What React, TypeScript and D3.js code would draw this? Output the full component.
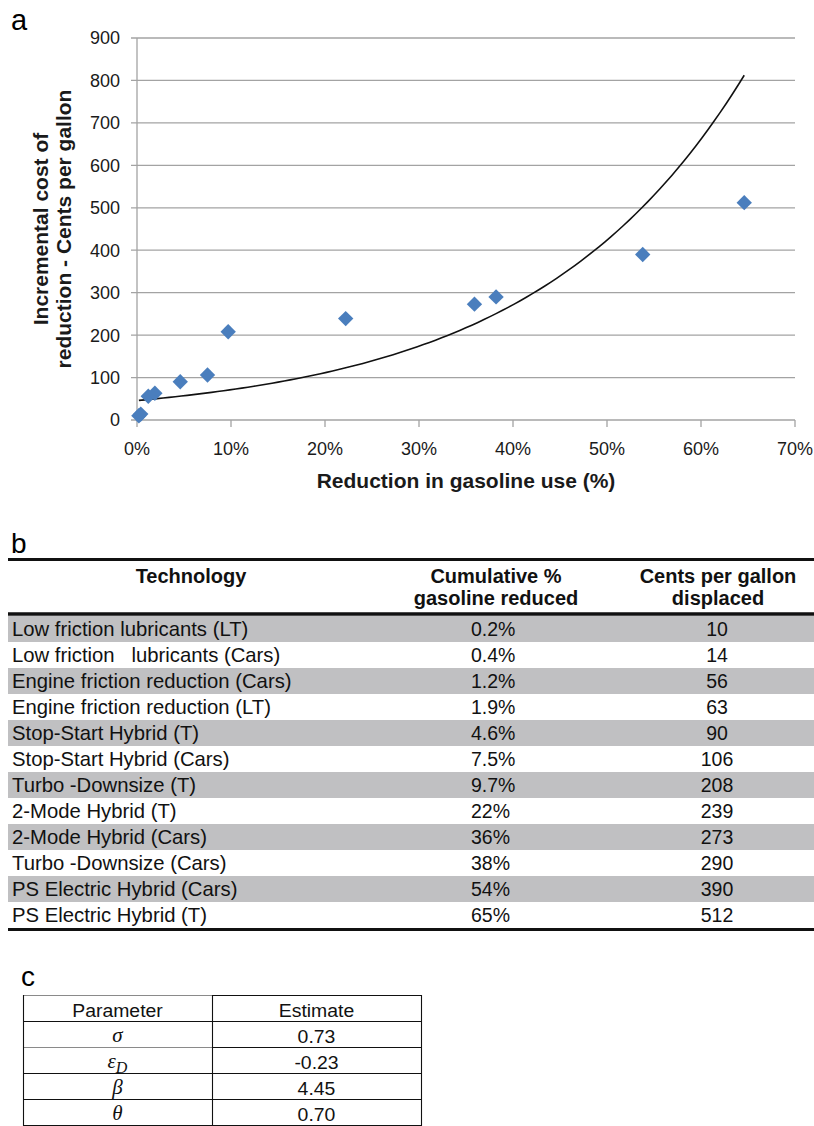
import React, { useEffect, useRef } from "react";
import * as d3 from "d3";

// panel b table
const technologies = [
  "Low friction lubricants (LT)",
  "Low friction   lubricants (Cars)",
  "Engine friction reduction (Cars)",
  "Engine friction reduction (LT)",
  "Stop-Start Hybrid (T)",
  "Stop-Start Hybrid (Cars)",
  "Turbo -Downsize (T)",
  "2-Mode Hybrid (T)",
  "2-Mode Hybrid (Cars)",
  "Turbo -Downsize (Cars)",
  "PS Electric Hybrid (Cars)",
  "PS Electric Hybrid (T)",
];
const cumulativeLabels = ["0.2%", "0.4%", "1.2%", "1.9%", "4.6%", "7.5%", "9.7%", "22%", "36%", "38%", "54%", "65%"];
const centsPerGallon = [10, 14, 56, 63, 90, 106, 208, 239, 273, 290, 390, 512];

// panel a: x positions as plotted (fraction of gasoline reduced)
const plottedReduction = [0.002, 0.004, 0.012, 0.019, 0.046, 0.075, 0.097, 0.222, 0.359, 0.382, 0.538, 0.646];

const yTicks = [0, 100, 200, 300, 400, 500, 600, 700, 800, 900];
const xTicks = [0, 0.1, 0.2, 0.3, 0.4, 0.5, 0.6, 0.7];

// panel c table
const paramSymbols = ["σ", "ε", "β", "θ"];
const paramSubscripts = ["", "D", "", ""];
const paramEstimates = ["0.73", "-0.23", "4.45", "0.70"];

const SANS = "'Liberation Sans', Arial, Helvetica, sans-serif";
const SERIF = "'Liberation Serif', 'Times New Roman', serif";

export default function App() {
  const svgRef = useRef(null);

  useEffect(() => {
    if (!svgRef.current) return;
    const svg = d3.select(svgRef.current);
    svg.selectAll("*").remove();

    // ---------- panel a ----------
    const x = d3.scaleLinear().domain([0, 0.7]).range([137, 795]);
    const y = d3.scaleLinear().domain([0, 900]).range([420, 38]);
    const chart = svg.append("g");

    chart
      .append("text")
      .attr("x", 11)
      .attr("y", 29.5)
      .attr("font-family", SANS)
      .attr("font-size", 29)
      .text("a");

    // gridlines
    chart
      .append("g")
      .selectAll("line")
      .data(yTicks)
      .join("line")
      .attr("x1", 131)
      .attr("x2", 795)
      .attr("y1", (d) => y(d))
      .attr("y2", (d) => y(d))
      .attr("stroke", "#a3a3a3")
      .attr("stroke-width", 1.3);

    // y axis line
    chart
      .append("line")
      .attr("x1", x(0))
      .attr("x2", x(0))
      .attr("y1", y(900))
      .attr("y2", y(0))
      .attr("stroke", "#a3a3a3")
      .attr("stroke-width", 1.3);

    // x tick marks
    chart
      .append("g")
      .selectAll("line")
      .data(xTicks)
      .join("line")
      .attr("x1", (d) => x(d))
      .attr("x2", (d) => x(d))
      .attr("y1", y(0))
      .attr("y2", y(0) + 7)
      .attr("stroke", "#a3a3a3")
      .attr("stroke-width", 1.3);

    chart
      .append("g")
      .selectAll("text")
      .data(yTicks)
      .join("text")
      .attr("x", 120)
      .attr("y", (d) => y(d))
      .attr("dy", "0.36em")
      .attr("text-anchor", "end")
      .attr("font-family", SANS)
      .attr("font-size", 18)
      .attr("fill", "#1a1a1a")
      .text((d) => d);

    chart
      .append("g")
      .selectAll("text")
      .data(xTicks)
      .join("text")
      .attr("x", (d) => x(d))
      .attr("y", 454.5)
      .attr("text-anchor", "middle")
      .attr("font-family", SANS)
      .attr("font-size", 18)
      .attr("fill", "#1a1a1a")
      .text((d) => d3.format(".0%")(d));

    chart
      .append("text")
      .attr("x", 466)
      .attr("y", 488)
      .attr("text-anchor", "middle")
      .attr("font-family", SANS)
      .attr("font-size", 21)
      .attr("font-weight", "bold")
      .attr("fill", "#1a1a1a")
      .text("Reduction in gasoline use (%)");

    const yTitle = chart
      .append("text")
      .attr("transform", "translate(0,229) rotate(-90)")
      .attr("text-anchor", "middle")
      .attr("font-family", SANS)
      .attr("font-size", 21)
      .attr("font-weight", "bold")
      .attr("fill", "#1a1a1a");
    yTitle.append("tspan").attr("x", 0).attr("y", 48).text("Incremental cost of");
    yTitle.append("tspan").attr("x", 0).attr("y", 70.5).text("reduction - Cents per gallon");

    // exponential trendline, least squares on ln(y)
    const lnY = centsPerGallon.map((v) => Math.log(v));
    const mx = d3.mean(plottedReduction);
    const my = d3.mean(lnY);
    const sxy = d3.sum(plottedReduction, (v, i) => (v - mx) * (lnY[i] - my));
    const sxx = d3.sum(plottedReduction, (v) => (v - mx) ** 2);
    const b = sxy / sxx;
    const a = Math.exp(my - b * mx);
    const [x0, x1] = d3.extent(plottedReduction);
    const curveXs = d3.range(0, 101).map((i) => x0 + ((x1 - x0) * i) / 100);

    chart
      .append("path")
      .datum(curveXs)
      .attr(
        "d",
        d3
          .line()
          .x((d) => x(d))
          .y((d) => y(a * Math.exp(b * d)))
      )
      .attr("fill", "none")
      .attr("stroke", "#111")
      .attr("stroke-width", 1.6);

    chart
      .append("g")
      .selectAll("path")
      .data(plottedReduction)
      .join("path")
      .attr("d", d3.symbol(d3.symbolSquare, 118)())
      .attr("transform", (d, i) => `translate(${x(d)},${y(centsPerGallon[i])}) rotate(45)`)
      .attr("fill", "#4a7ebd");

    // ---------- panel b ----------
    const tb = svg.append("g");
    tb.append("text")
      .attr("x", 11)
      .attr("y", 553)
      .attr("font-family", SANS)
      .attr("font-size", 28)
      .text("b");

    const rowH = 26;
    const rowTop = 616;
    const rows = tb.append("g");
    rows
      .selectAll("rect")
      .data(technologies)
      .join("rect")
      .attr("x", 8)
      .attr("y", (d, i) => rowTop + i * rowH)
      .attr("width", 806)
      .attr("height", rowH)
      .attr("fill", (d, i) => (i % 2 === 0 ? "#c0c0c2" : "#fff"));

    const textAttrs = (sel, size) =>
      sel.attr("font-family", SANS).attr("font-size", size).attr("fill", "#111");

    rows
      .append("g")
      .selectAll("text")
      .data(technologies)
      .join("text")
      .attr("x", 12)
      .attr("y", (d, i) => rowTop + i * rowH + 19.5)
      .style("white-space", "pre")
      .call(textAttrs, 20.3)
      .text((d) => d);
    rows
      .append("g")
      .selectAll("text")
      .data(cumulativeLabels)
      .join("text")
      .attr("x", 471)
      .attr("y", (d, i) => rowTop + i * rowH + 19.5)
      .call(textAttrs, 19.5)
      .text((d) => d);
    rows
      .append("g")
      .selectAll("text")
      .data(centsPerGallon)
      .join("text")
      .attr("x", 717)
      .attr("y", (d, i) => rowTop + i * rowH + 19.5)
      .attr("text-anchor", "middle")
      .call(textAttrs, 19.5)
      .text((d) => d);

    const header = tb
      .append("g")
      .attr("font-family", SANS)
      .attr("font-size", 20)
      .attr("font-weight", "bold")
      .attr("fill", "#111")
      .attr("text-anchor", "middle");
    header.append("text").attr("x", 191).attr("y", 583).text("Technology");
    const h2 = header.append("text");
    h2.append("tspan").attr("x", 496).attr("y", 583).text("Cumulative %");
    h2.append("tspan").attr("x", 496).attr("y", 605).text("gasoline reduced");
    const h3 = header.append("text");
    h3.append("tspan").attr("x", 718).attr("y", 583).text("Cents per gallon");
    h3.append("tspan").attr("x", 718).attr("y", 605).text("displaced");

    [
      [559.5, 3],
      [614, 3.5],
      [rowTop + technologies.length * rowH + 1.5, 3],
    ].forEach(([yy, w]) => {
      tb.append("line")
        .attr("x1", 8)
        .attr("x2", 814)
        .attr("y1", yy)
        .attr("y2", yy)
        .attr("stroke", "#111")
        .attr("stroke-width", w);
    });

    // ---------- panel c ----------
    const tc = svg.append("g");
    tc.append("text")
      .attr("x", 21)
      .attr("y", 986)
      .attr("font-family", SANS)
      .attr("font-size", 28)
      .text("c");

    const cTop = 995;
    const cRow = 26;
    const cx = [23, 212, 421];
    const nRows = paramSymbols.length + 1;

    // horizontal rules
    d3.range(nRows + 1).forEach((i) => {
      const yy = cTop + i * cRow + 0.5;
      const grayLeft = i === 0 || i === 2;
      tc.append("line")
        .attr("x1", cx[0])
        .attr("x2", cx[1])
        .attr("y1", yy)
        .attr("y2", yy)
        .attr("stroke", grayLeft ? "#8a8a8a" : "#111")
        .attr("stroke-width", 1.1);
      tc.append("line")
        .attr("x1", cx[1])
        .attr("x2", cx[2])
        .attr("y1", yy)
        .attr("y2", yy)
        .attr("stroke", "#111")
        .attr("stroke-width", 1.1);
    });
    cx.forEach((xx) => {
      tc.append("line")
        .attr("x1", xx + 0.5)
        .attr("x2", xx + 0.5)
        .attr("y1", cTop)
        .attr("y2", cTop + nRows * cRow + 1)
        .attr("stroke", "#111")
        .attr("stroke-width", 1.1);
    });

    const colL = (cx[0] + cx[1]) / 2;
    const colR = (cx[1] + cx[2]) / 2;
    const stretched = (px, py, label) =>
      tc
        .append("g")
        .attr("transform", `translate(${px},${py}) scale(1.05,1)`)
        .append("text")
        .attr("text-anchor", "middle")
        .attr("font-family", SANS)
        .attr("font-size", 18.5)
        .attr("fill", "#111")
        .text(label);

    stretched(colL, cTop + 21.5, "Parameter");
    stretched(colR, cTop + 21.5, "Estimate");

    paramSymbols.forEach((s, i) => {
      const by = cTop + (i + 1) * cRow + 20.5;
      const t = tc
        .append("text")
        .attr("x", colL)
        .attr("y", by)
        .attr("text-anchor", "middle")
        .attr("font-family", SERIF)
        .attr("font-style", "italic")
        .attr("font-size", 21)
        .attr("fill", "#111");
      t.append("tspan").text(s);
      if (paramSubscripts[i]) {
        t.append("tspan").attr("dy", 5).attr("font-size", 16).text(paramSubscripts[i]);
      }
      stretched(colR, cTop + (i + 1) * cRow + 21.5, paramEstimates[i]);
    });
  }, []);

  return (
    <svg
      ref={svgRef}
      width={814}
      height={1126}
      style={{ position: "absolute", left: 0, top: 0, background: "#fff" }}
    />
  );
}
